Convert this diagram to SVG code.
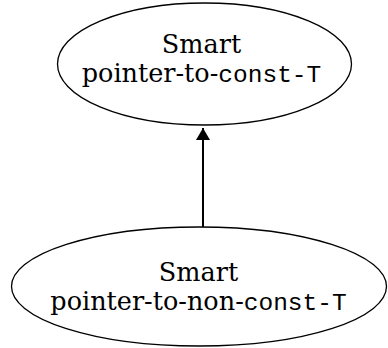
<svg xmlns="http://www.w3.org/2000/svg" width="388" height="348" viewBox="0 0 388 348">
<style>
.node ellipse{fill:#fff;stroke:#000;stroke-width:1.3}
.lbl{font-family:"DejaVu Serif","Liberation Serif",serif;font-size:25.5px;fill:#000;text-anchor:middle}
.mono{font-family:"Liberation Mono","DejaVu Sans Mono",monospace;font-size:24.5px}
.edge{stroke:#000;stroke-width:2;fill:none}
</style>
<defs>
<marker id="ah" viewBox="0 0 12 20" refX="12" refY="10" markerWidth="12" markerHeight="20" markerUnits="userSpaceOnUse" orient="auto">
<path d="M0,3 L12,10 L0,17 Z" fill="#000"/>
</marker>
</defs>
<rect width="388" height="348" fill="#fff"/>
<g id="connectors">
<line class="edge" x1="203" y1="227" x2="203" y2="128" marker-end="url(#ah)"/>
</g>
<g id="node-const" class="node">
<ellipse cx="204.5" cy="64" rx="147" ry="61"/>
<text class="lbl" x="201.5" y="53.3">Smart</text>
<text class="lbl" x="201.5" y="81.7">pointer-to-<tspan class="mono">const-T</tspan></text>
</g>
<g id="node-nonconst" class="node">
<ellipse cx="199" cy="286.5" rx="187.5" ry="59.5"/>
<text class="lbl" x="198.5" y="281">Smart</text>
<text class="lbl" x="198.5" y="310">pointer-to-non-<tspan class="mono">const-T</tspan></text>
</g>
</svg>
